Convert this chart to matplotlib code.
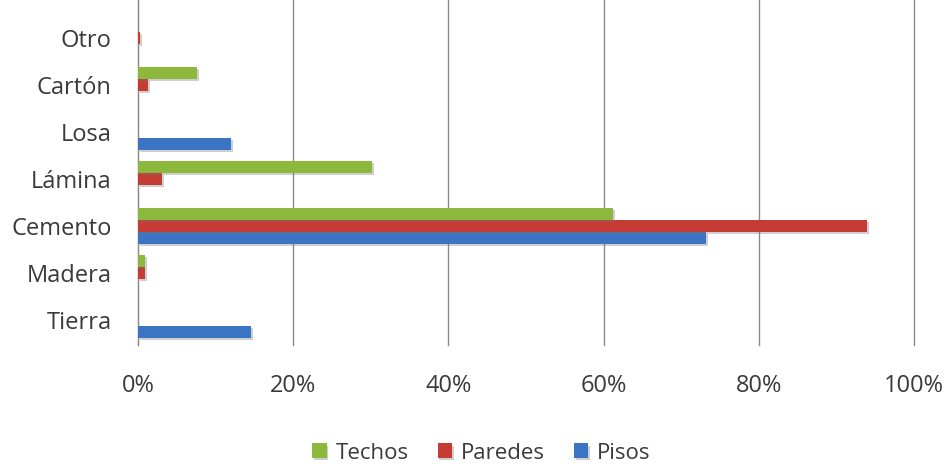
import matplotlib.pyplot as plt
import matplotlib.patheffects as pe
import numpy as np
from matplotlib.ticker import PercentFormatter

categories = ["Tierra", "Madera", "Cemento", "Lámina", "Losa", "Cartón", "Otro"]
techos = [0, 0.9, 61.2, 30.2, 0, 7.6, 0]
paredes = [0, 0.9, 94.0, 3.1, 0, 1.3, 0.3]
pisos = [14.6, 0, 73.2, 0, 12.0, 0, 0]

plt.rcParams['font.family'] = ['Open Sans', 'DejaVu Sans']

fig = plt.figure(figsize=(9.46, 4.66), dpi=100)
ax = fig.add_axes([0.146, 0.26, 0.82, 0.74])

y = np.arange(len(categories))
h = 0.255
shadow = [pe.SimplePatchShadow(offset=(1.2, -1.5), shadow_rgbFace='#777777', alpha=0.35), pe.Normal()]
ax.barh(y - h, pisos, height=h, color='#3A74C2', label='Pisos', zorder=3, path_effects=shadow)
ax.barh(y, paredes, height=h, color='#C43C33', label='Paredes', zorder=3, path_effects=shadow)
ax.barh(y + h, techos, height=h, color='#8DB83E', label='Techos', zorder=3, path_effects=shadow)

ax.set_xlim(0, 100)
ax.set_ylim(-0.53, 6.81)
ax.set_xticks(np.arange(0, 101, 20))
ax.xaxis.set_major_formatter(PercentFormatter(decimals=0))
ax.set_yticks(y)
ax.set_yticklabels(categories)
ax.grid(axis='x', color='#8A8A8A', linewidth=1, zorder=0)
for line in ax.get_xgridlines():
    line.set_clip_on(False)
ax.tick_params(axis='x', length=0, pad=21, labelsize=17, labelcolor='#3A3A3A')
ax.tick_params(axis='y', length=0, pad=19, labelsize=17, labelcolor='#3A3A3A')
for s in ['top', 'right', 'bottom']:
    ax.spines[s].set_visible(False)
ax.spines['left'].set_color('#8A8A8A')

handles, labels = ax.get_legend_handles_labels()
fig.legend(handles[::-1], labels[::-1], loc='lower center', bbox_to_anchor=(0.509, -0.038),
           ncol=3, frameon=False, fontsize=16, handlelength=0.65, handleheight=0.65,
           handletextpad=0.4, columnspacing=1.3, labelcolor='#3A3A3A')

fig.savefig('out.png', dpi=100)
